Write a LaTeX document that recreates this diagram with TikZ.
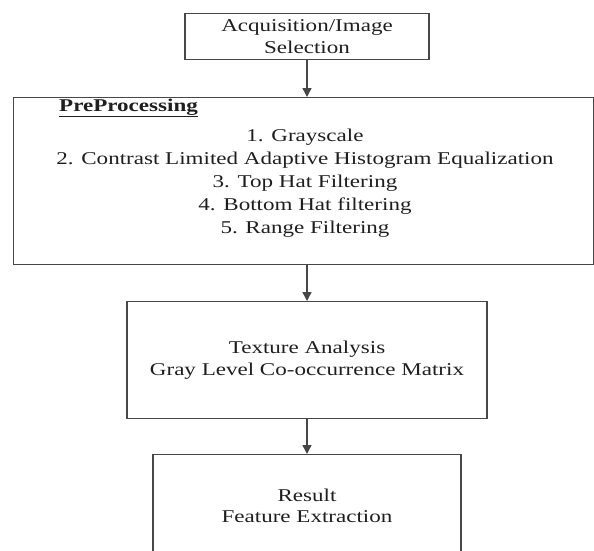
\documentclass[tikz,border=0pt]{standalone}
\usepackage{fontspec}
\setmainfont{Liberation Serif}[FakeStretch=1.28]
\usetikzlibrary{arrows.meta}
\begin{document}
\begin{tikzpicture}[x=1pt,y=-1pt,
  box/.style={draw=black!72, line width=1.4pt, inner sep=0pt, align=center, text=black!88,
    font=\fontsize{18}{21.5}\selectfont},
  txt/.style={align=center, text=black!88, inner sep=0pt, font=\fontsize{18}{23}\selectfont},
  arr/.style={draw=black!72, line width=1.4pt, -{Triangle[width=9pt,length=9pt]}}]
\clip (0,0) rectangle (594,550);
\fill[white] (0,0) rectangle (594,550);
\node[box, minimum width=244pt, minimum height=46pt, anchor=north] (acq) at (307,13)
  {Acquisition/Image\\Selection};
\node[box, minimum width=580pt, minimum height=167pt, anchor=north west] (pre) at (13,97) {};
\node[txt, anchor=west, font=\fontsize{18}{23}\selectfont\bfseries] (prelab) at (59,108)
  {\underline{PreProcessing}};
\node[txt] (steps) at (305,183)
  {1. Grayscale\\2. Contrast Limited Adaptive Histogram Equalization\\3. Top Hat Filtering\\4. Bottom Hat filtering\\5. Range Filtering};
\node[box, minimum width=360pt, minimum height=117pt, anchor=north] (tex) at (307,301)
  {Texture Analysis\\Gray Level Co-occurrence Matrix};
\node[box, minimum width=308pt, minimum height=102pt, anchor=north] (res) at (307,454)
  {Result\\Feature Extraction};
\draw[arr] (acq.south) -- (acq.south |- pre.north);
\draw[arr] (tex.north |- pre.south) -- (tex.north);
\draw[arr] (tex.south) -- (res.north);
\end{tikzpicture}
\end{document}
